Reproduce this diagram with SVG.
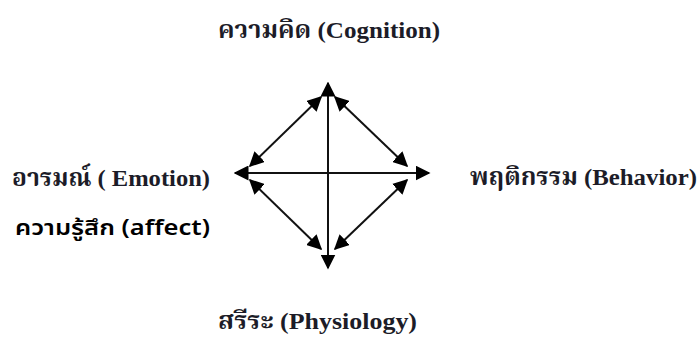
<svg xmlns="http://www.w3.org/2000/svg" width="699" height="338" viewBox="0 0 699 338">
<style>
.lbl{font-family:"Liberation Serif","Noto Serif Thai","Noto Sans Thai",serif;font-size:24px;font-weight:bold;fill:#1c1c28}
.aff{font-family:"Noto Sans","Noto Sans Thai","DejaVu Sans",sans-serif;font-size:21px;font-weight:600;fill:#000}
.ln{stroke:#111;stroke-width:2;fill:none;marker-start:url(#ah);marker-end:url(#ah)}
</style>
<defs>
<marker id="ah" viewBox="0 0 10 10" refX="9" refY="5" markerWidth="7.5" markerHeight="7.5" orient="auto-start-reverse" markerUnits="strokeWidth">
<path d="M0,0 L10,5 L0,10 z" fill="#000"/>
</marker>
</defs>
<g id="connectors">
<line class="ln" x1="328" y1="83" x2="328" y2="268"/>
<line class="ln" x1="235" y1="173" x2="429" y2="173"/>
<line class="ln" x1="321" y1="97" x2="250" y2="166"/>
<line class="ln" x1="335" y1="97" x2="407" y2="166"/>
<line class="ln" x1="250" y1="180" x2="321" y2="249"/>
<line class="ln" x1="407" y1="180" x2="335" y2="249"/>
</g>
<g id="cognition"><text class="lbl" x="218" y="38" textLength="222" lengthAdjust="spacingAndGlyphs">ความคิด  (Cognition)</text></g>
<g id="emotion"><text class="lbl" x="12" y="186" textLength="198" lengthAdjust="spacingAndGlyphs">อารมณ์ ( Emotion)</text></g>
<g id="affect"><text class="aff" x="15" y="235" textLength="195" lengthAdjust="spacingAndGlyphs">ความรู้สึก (affect)</text></g>
<g id="behavior"><text class="lbl" x="470" y="185" textLength="227" lengthAdjust="spacingAndGlyphs">พฤติกรรม (Behavior)</text></g>
<g id="physiology"><text class="lbl" x="218" y="329" textLength="199" lengthAdjust="spacingAndGlyphs">สรีระ (Physiology)</text></g>
</svg>
